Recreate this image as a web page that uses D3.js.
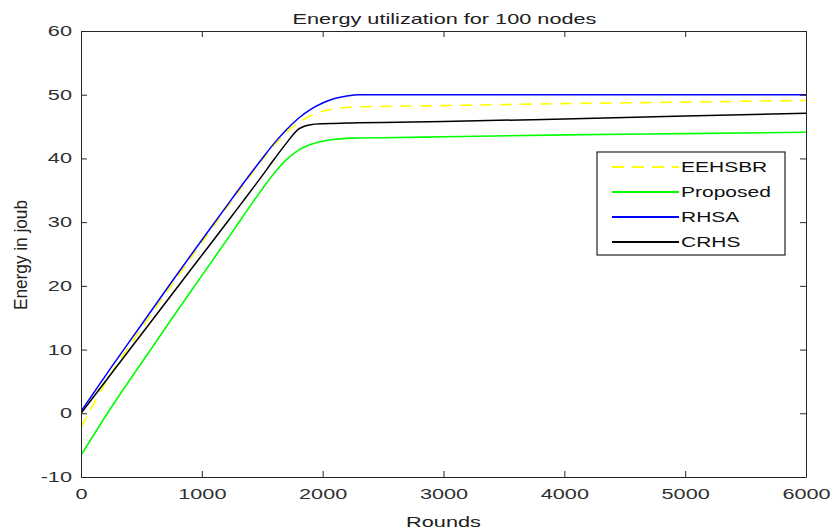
<!DOCTYPE html>
<html>
<head>
<meta charset="utf-8">
<script src="https://cdn.jsdelivr.net/npm/d3@7/dist/d3.min.js"></script>
<style>
  html, body { margin: 0; padding: 0; background: #fff; }
  svg { display: block; }
  text { font-family: "Liberation Sans", Arial, sans-serif; }
</style>
</head>
<body>
<svg id="chart" width="831" height="531"></svg>
<script>
// Sample rounds shared by every series
const rounds = [0, 250, 500, 750, 1000, 1250, 1500, 1600, 1700, 1800, 1900, 2000, 2100, 2200, 2300, 2500, 3000, 4000, 5000, 6000];

// Energy (joules) per series at each sampled round
const energyEEHSBR   = [-2.2, 6.3, 13.3, 20.1, 26.8, 33.4, 39.8, 42.1, 44.1, 45.6, 46.7, 47.4, 47.8, 48.0, 48.1, 48.15, 48.3, 48.6, 48.85, 49.1];
const energyProposed = [-6.6, 0.9, 7.9, 14.8, 21.6, 28.4, 35.2, 37.7, 39.8, 41.3, 42.2, 42.7, 43.0, 43.15, 43.2, 43.25, 43.4, 43.7, 43.9, 44.1];
const energyRHSA     = [0.3, 7.2, 13.9, 20.6, 27.2, 33.7, 40.0, 42.4, 44.5, 46.3, 47.7, 48.7, 49.4, 49.8, 50.0, 50.0, 50.0, 50.0, 50.0, 50.0];
const energyCRHS     = [0.0, 6.2, 12.4, 18.6, 24.8, 31.0, 37.3, 39.9, 42.4, 44.6, 45.3, 45.45, 45.5, 45.55, 45.6, 45.65, 45.8, 46.2, 46.65, 47.1];

const seriesNames = ["EEHSBR", "Proposed", "RHSA", "CRHS"];
const xTicks = [0, 1000, 2000, 3000, 4000, 5000, 6000];
const yTicks = [-10, 0, 10, 20, 30, 40, 50, 60];

const titleText = "Energy utilization for 100 nodes";
const xLabel = "Rounds";
const yLabel = "Energy in joub";

// Styling for each series
const styles = {
  EEHSBR:   { color: "#ffff00", width: 1.6, dash: "12,8" },
  Proposed: { color: "#00ff00", width: 1.6, dash: null },
  RHSA:     { color: "#0000ff", width: 1.5, dash: null },
  CRHS:     { color: "#000000", width: 1.5, dash: null }
};

const series = [
  { name: "EEHSBR",   values: energyEEHSBR },
  { name: "Proposed", values: energyProposed },
  { name: "RHSA",     values: energyRHSA },
  { name: "CRHS",     values: energyCRHS }
];

const W = 831, H = 531;
const plot = { left: 81, top: 31, right: 806, bottom: 477 };
const SX = 1.55;           // horizontal text stretch
const FONT = 14;
const plainNumber = d => String(d);

const svg = d3.select("#chart");
svg.append("rect").attr("width", W).attr("height", H).attr("fill", "#fff");

const x = d3.scaleLinear().domain([0, 6000]).range([plot.left, plot.right]);
const y = d3.scaleLinear().domain([-10, 60]).range([plot.bottom, plot.top]);

// Lines
const line = d3.line()
  .x(d => x(d[0]))
  .y(d => y(d[1]))
  .curve(d3.curveMonotoneX);

const clipId = "plot-clip";
svg.append("clipPath").attr("id", clipId)
  .append("rect")
  .attr("x", plot.left).attr("y", plot.top)
  .attr("width", plot.right - plot.left).attr("height", plot.bottom - plot.top);

const linesG = svg.append("g").attr("clip-path", `url(#${clipId})`);
series.forEach(s => {
  const st = styles[s.name];
  linesG.append("path")
    .datum(rounds.map((r, i) => [r, s.values[i]]))
    .attr("fill", "none")
    .attr("stroke", st.color)
    .attr("stroke-width", st.width)
    .attr("stroke-dasharray", st.dash)
    .attr("stroke-linejoin", "round")
    .attr("d", line);
});

// Axes: ticks point inward on all four sides
const axisColor = "#262626";
function styleAxis(g) {
  g.selectAll(".domain").attr("stroke", axisColor).attr("stroke-width", 1);
  g.selectAll(".tick line").attr("stroke", axisColor).attr("stroke-width", 1);
}

const gx = svg.append("g")
  .attr("transform", `translate(0,${plot.bottom})`)
  .call(d3.axisBottom(x).tickValues(xTicks).tickFormat(plainNumber)
    .tickSizeInner(-6).tickSizeOuter(0).tickPadding(12))
  .call(styleAxis);
gx.selectAll(".tick text")
  .attr("font-size", FONT)
  .attr("font-family", "Liberation Sans, Arial, sans-serif")
  .attr("fill", "#303030")
  .attr("transform", `scale(${SX},1)`);

const gy = svg.append("g")
  .attr("transform", `translate(${plot.left},0)`)
  .call(d3.axisLeft(y).tickValues(yTicks).tickFormat(plainNumber)
    .tickSizeInner(-6).tickSizeOuter(0).tickPadding(9))
  .call(styleAxis);
gy.selectAll(".tick text")
  .attr("font-size", FONT)
  .attr("font-family", "Liberation Sans, Arial, sans-serif")
  .attr("fill", "#303030")
  .attr("x", -9 / SX)
  .attr("transform", `scale(${SX},1)`);

svg.append("g")
  .attr("transform", `translate(0,${plot.top})`)
  .call(d3.axisTop(x).tickValues(xTicks).tickSizeInner(-6).tickSizeOuter(0).tickFormat(""))
  .call(styleAxis);

svg.append("g")
  .attr("transform", `translate(${plot.right},0)`)
  .call(d3.axisRight(y).tickValues(yTicks).tickSizeInner(-6).tickSizeOuter(0).tickFormat(""))
  .call(styleAxis);

// Title and axis labels
svg.append("text")
  .attr("transform", `translate(${(plot.left + plot.right) / 2 + 1},24) scale(${SX},1)`)
  .attr("text-anchor", "middle")
  .attr("font-size", FONT)
  .attr("fill", "#202020")
  .text(titleText);

svg.append("text")
  .attr("transform", `translate(${(plot.left + plot.right) / 2},527) scale(${SX},1)`)
  .attr("text-anchor", "middle")
  .attr("font-size", FONT)
  .attr("fill", "#202020")
  .text(xLabel);

svg.append("text")
  .attr("transform", `translate(27,255) rotate(-90) scale(1.23,1.3)`)
  .attr("text-anchor", "middle")
  .attr("font-size", FONT)
  .attr("fill", "#202020")
  .text(yLabel);

// Legend
const legend = { left: 597, top: 152, right: 785, bottom: 255, firstRow: 167, rowStep: 25 };
const lg = svg.append("g");
lg.append("rect")
  .attr("x", legend.left).attr("y", legend.top)
  .attr("width", legend.right - legend.left).attr("height", legend.bottom - legend.top)
  .attr("fill", "#fff").attr("stroke", "#222").attr("stroke-width", 1.2);

seriesNames.forEach((name, i) => {
  const st = styles[name];
  const cy = legend.firstRow + i * legend.rowStep;
  lg.append("line")
    .attr("x1", 612).attr("x2", 679)
    .attr("y1", cy).attr("y2", cy)
    .attr("stroke", st.color)
    .attr("stroke-width", st.width + 0.4)
    .attr("stroke-dasharray", st.dash);
  lg.append("text")
    .attr("transform", `translate(681,${cy}) scale(1.5,1)`)
    .attr("dy", "0.35em")
    .attr("font-size", FONT)
    .attr("fill", "#111")
    .text(name);
});
</script>
</body>
</html>
